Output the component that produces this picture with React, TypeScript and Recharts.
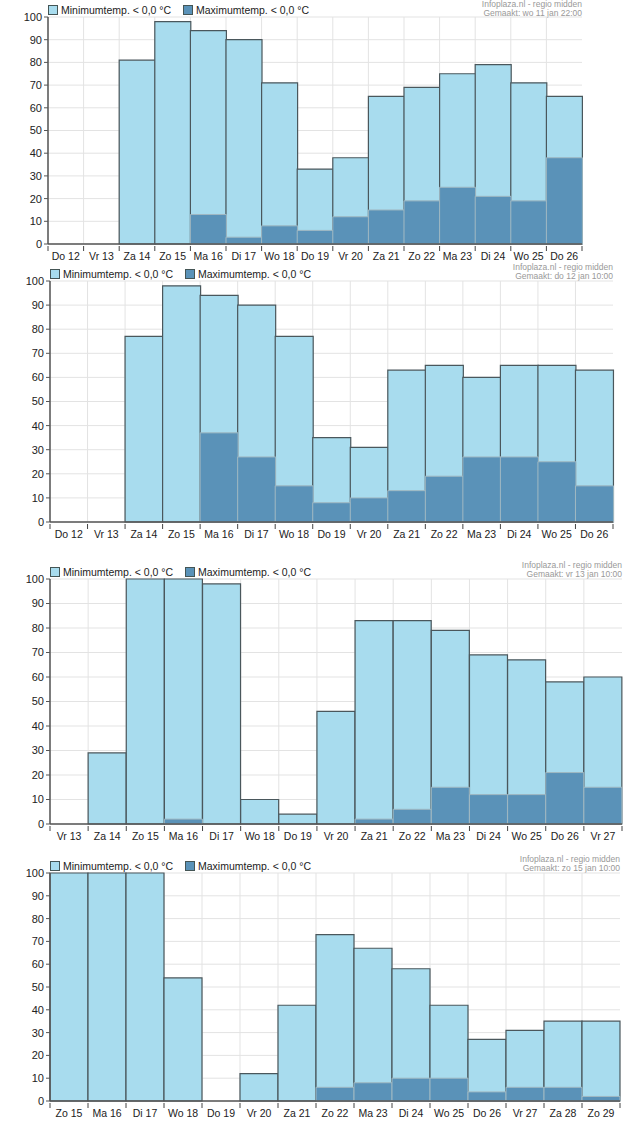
import { BarChart, Bar, XAxis, YAxis, CartesianGrid } from "recharts";

const days1 = ["Do 12", "Vr 13", "Za 14", "Zo 15", "Ma 16", "Di 17", "Wo 18", "Do 19", "Vr 20", "Za 21", "Zo 22", "Ma 23", "Di 24", "Wo 25", "Do 26"];
const min1 = [0, 0, 81, 98, 94, 90, 71, 33, 38, 65, 69, 75, 79, 71, 65];
const max1 = [0, 0, 0, 0, 13, 3, 8, 6, 12, 15, 19, 25, 21, 19, 38];

const days2 = days1;
const min2 = [0, 0, 77, 98, 94, 90, 77, 35, 31, 63, 65, 60, 65, 65, 63];
const max2 = [0, 0, 0, 0, 37, 27, 15, 8, 10, 13, 19, 27, 27, 25, 15];

const days3 = ["Vr 13", "Za 14", "Zo 15", "Ma 16", "Di 17", "Wo 18", "Do 19", "Vr 20", "Za 21", "Zo 22", "Ma 23", "Di 24", "Wo 25", "Do 26", "Vr 27"];
const min3 = [0, 29, 100, 100, 98, 10, 4, 46, 83, 83, 79, 69, 67, 58, 60];
const max3 = [0, 0, 0, 2, 0, 0, 0, 0, 2, 6, 15, 12, 12, 21, 15];

const days4 = ["Zo 15", "Ma 16", "Di 17", "Wo 18", "Do 19", "Vr 20", "Za 21", "Zo 22", "Ma 23", "Di 24", "Wo 25", "Do 26", "Vr 27", "Za 28", "Zo 29"];
const min4 = [100, 100, 100, 54, 0, 12, 42, 73, 67, 58, 42, 27, 31, 35, 35];
const max4 = [0, 0, 0, 0, 0, 0, 0, 6, 8, 10, 10, 4, 6, 6, 2];

const yTicks = [0, 10, 20, 30, 40, 50, 60, 70, 80, 90, 100];

const LIGHT = "#a8dcee";
const DARK = "#5a92b8";
const FONT = "'Liberation Sans', Arial, sans-serif";

interface PanelProps {
  days: string[];
  minVals: number[];
  maxVals: number[];
  made: string;
  top: number; // plot top
  bottom: number; // plot bottom
  left: number;
  right: number;
}

function Panel({ days, minVals, maxVals, made, top, bottom, left, right }: PanelProps) {
  const data = days.map((d, i) => ({ day: d, min: minVals[i], max: maxVals[i] }));
  const padTop = 18;
  const containerTop = top - padTop;
  const height = bottom - top + padTop + 20;
  const half = (right - left) / days.length / 2;
  // info text sits just above the plot, but never above the page edge
  const infoTop = Math.max(-containerTop, padTop - 18);

  const XTick = (props: any) => {
    const { x, y, payload, index } = props;
    return (
      <g>
        <line x1={x - half} x2={x - half} y1={y - 4} y2={y + 1} stroke="#444" />
        {index === days.length - 1 && (
          <line x1={x + half} x2={x + half} y1={y - 4} y2={y + 1} stroke="#444" />
        )}
        <text x={x} y={y} dy={9.5} textAnchor="middle" fontSize={10.5} fill="#222" fontFamily={FONT}>
          {payload.value}
        </text>
      </g>
    );
  };

  return (
    <div style={{ position: "absolute", left: 0, top: containerTop, width: 640, height }}>
      <div
        style={{
          position: "absolute",
          left,
          top: padTop - 13,
          fontSize: 10.5,
          fontFamily: FONT,
          color: "#222",
          display: "flex",
          alignItems: "center",
          lineHeight: "12px",
        }}
      >
        <span style={{ width: 8, height: 8, background: LIGHT, border: "1px solid #455", marginRight: 3 }} />
        <span style={{ width: 122 }}>Minimumtemp. &lt; 0,0 °C</span>
        <span style={{ width: 8, height: 8, background: DARK, border: "1px solid #455", marginRight: 3 }} />
        <span>Maximumtemp. &lt; 0,0 °C</span>
      </div>
      <div
        style={{
          position: "absolute",
          right: 640 - right,
          top: infoTop,
          fontSize: 8.5,
          fontFamily: FONT,
          color: "#999",
          textAlign: "right",
          lineHeight: "9px",
        }}
      >
        <div>Infoplaza.nl - regio midden</div>
        <div>{made}</div>
      </div>
      <BarChart
        width={640}
        height={height}
        data={data}
        margin={{ top: padTop, right: 640 - right, bottom: 4, left: 0 }}
        barCategoryGap={0}
      >
        <CartesianGrid
          stroke="#e3e3e3"
          verticalCoordinatesGenerator={({ offset }: any) =>
            days.map((_, i) => offset.left + (i * offset.width) / days.length)
          }
        />
        <XAxis
          dataKey="day"
          interval={0}
          height={16}
          tickLine={false}
          tickSize={4}
          axisLine={{ stroke: "#555", strokeWidth: 1.5 }}
          tick={<XTick />}
        />
        <XAxis
          xAxisId="top"
          dataKey="day"
          orientation="top"
          height={0}
          tick={false}
          tickLine={false}
          axisLine={{ stroke: "#111", strokeWidth: 1.5 }}
        />
        <YAxis
          width={left}
          domain={[0, 100]}
          ticks={yTicks}
          interval={0}
          tickSize={4}
          tickLine={{ stroke: "#555" }}
          axisLine={{ stroke: "#555", strokeWidth: 1.5 }}
          tick={{ fontSize: 11, fill: "#222", fontFamily: FONT }}
        />
        <YAxis
          yAxisId="right"
          orientation="right"
          width={0}
          domain={[0, 100]}
          tick={false}
          tickLine={false}
          axisLine={{ stroke: "#111", strokeWidth: 1.5 }}
        />
        <Bar dataKey="min" fill={LIGHT} stroke="#4a575c" strokeWidth={1.2} isAnimationActive={false} />
        <Bar
          dataKey="max"
          xAxisId="top"
          fill={DARK}
          stroke="#9fb8c2"
          strokeWidth={1}
          isAnimationActive={false}
        />
      </BarChart>
    </div>
  );
}

export default function App() {
  return (
    <div style={{ position: "absolute", left: 0, top: 0, width: 640, height: 1136, background: "#fff" }}>
      <Panel days={days1} minVals={min1} maxVals={max1} made="Gemaakt: wo 11 jan 22:00" top={17} bottom={244} left={48} right={582} />
      <Panel days={days2} minVals={min2} maxVals={max2} made="Gemaakt: do 12 jan 10:00" top={281} bottom={522} left={50} right={613} />
      <Panel days={days3} minVals={min3} maxVals={max3} made="Gemaakt: vr 13 jan 10:00" top={579} bottom={824} left={50} right={622} />
      <Panel days={days4} minVals={min4} maxVals={max4} made="Gemaakt: zo 15 jan 10:00" top={873} bottom={1101} left={50} right={620} />
    </div>
  );
}
